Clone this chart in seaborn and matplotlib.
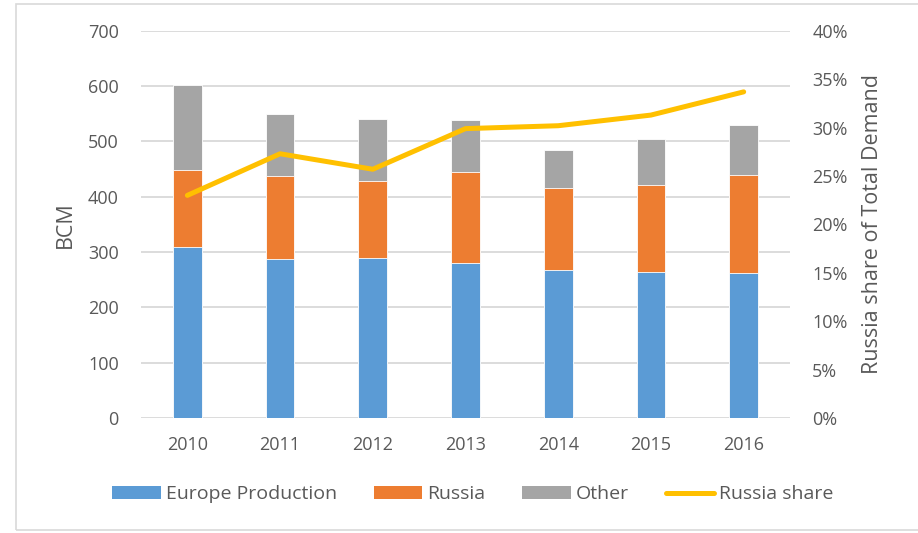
import numpy as np
import pandas as pd
import matplotlib
matplotlib.use("Agg")
import matplotlib.pyplot as plt
import seaborn as sns
from matplotlib.patches import Patch, Rectangle
from matplotlib.lines import Line2D

years = ["2010", "2011", "2012", "2013", "2014", "2015", "2016"]
europe_production = [310, 288, 290, 281, 268, 263, 262]
russia = [138, 149, 138, 163, 147, 158, 177]
other = [155, 113, 113, 95, 70, 84, 91]
russia_share = [23.0, 27.3, 25.7, 29.9, 30.2, 31.3, 33.7]

left_ticks = [0, 100, 200, 300, 400, 500, 600, 700]
right_ticks = [0, 5, 10, 15, 20, 25, 30, 35, 40]

C_BLUE = "#5B9BD5"
C_ORANGE = "#ED7D31"
C_GRAY = "#A5A5A5"
C_YELLOW = "#FFC000"
TXT = "#595959"
FS = 13

sns.set_theme(style="white")
plt.rcParams["font.family"] = ["Open Sans", "DejaVu Sans"]

df = pd.DataFrame({
    "year": years,
    "europe": europe_production,
    "russia": russia,
    "other": other,
    "share": russia_share,
})
df["lvl2"] = df["europe"] + df["russia"]
df["lvl3"] = df["lvl2"] + df["other"]

fig = plt.figure(figsize=(9.18, 5.33), dpi=100)
ax = fig.add_axes([0.1536, 0.216, 0.707, 0.726])

bw = 0.31
sns.barplot(data=df, x="year", y="lvl3", color=C_GRAY, width=bw, saturation=1,
            ax=ax, edgecolor="white", linewidth=0.6, zorder=2)
sns.barplot(data=df, x="year", y="lvl2", color=C_ORANGE, width=bw, saturation=1,
            ax=ax, edgecolor="white", linewidth=0.6, zorder=3)
sns.barplot(data=df, x="year", y="europe", color=C_BLUE, width=bw, saturation=1,
            ax=ax, edgecolor="white", linewidth=0.6, zorder=4)

ax.set_ylim(0, 700)
ax.set_xlim(-0.5, len(years) - 0.5)
ax.set_yticks(left_ticks)
ax.set_yticklabels([str(t) for t in left_ticks])
ax.yaxis.grid(True, color="#D9D9D9", linewidth=1.3, zorder=0)
ax.set_axisbelow(True)
for s in ax.spines.values():
    s.set_visible(False)
ax.tick_params(axis="both", length=0, labelsize=FS, colors=TXT)
ax.tick_params(axis="x", pad=13)
ax.tick_params(axis="y", pad=16)
ax.set_xlabel("")
ax.set_ylabel("BCM", fontsize=15.5, color=TXT, labelpad=9)

ax2 = ax.twinx()
x_pos = np.arange(len(years))
sns.lineplot(x=x_pos, y=df["share"], ax=ax2, color=C_YELLOW, linewidth=3.6,
             solid_capstyle="round", solid_joinstyle="round", zorder=5)
ax2.set_ylim(0, 40)
ax2.set_yticks(right_ticks)
ax2.set_yticklabels([f"{t}%" for t in right_ticks])
ax2.set_xlim(-0.5, len(years) - 0.5)
for s in ax2.spines.values():
    s.set_visible(False)
ax2.grid(False)
ax2.tick_params(axis="y", length=0, labelsize=FS, colors=TXT, pad=16)
ax2.set_ylabel("Russia share of Total Demand", fontsize=15.5, color=TXT, labelpad=10)

handles = [
    Patch(facecolor=C_BLUE, edgecolor="none"),
    Patch(facecolor=C_ORANGE, edgecolor="none"),
    Patch(facecolor=C_GRAY, edgecolor="none"),
    Line2D([0], [0], color=C_YELLOW, linewidth=3.6, solid_capstyle="round"),
]
labels = ["Europe Production", "Russia", "Other", "Russia share"]
leg = fig.legend(handles, labels, loc="center", bbox_to_anchor=(0.515, 0.073),
                 ncol=4, frameon=False, fontsize=14, handlelength=2.5,
                 handleheight=0.62, handletextpad=0.25, columnspacing=1.9)
for t in leg.get_texts():
    t.set_color(TXT)

fig.patches.append(Rectangle((16 / 918, 1 - 530 / 533), 1.0, (530 - 4) / 533,
                             transform=fig.transFigure, fill=False,
                             edgecolor="#D9D9D9", linewidth=1.2))

fig.savefig("out.png", dpi=100)
